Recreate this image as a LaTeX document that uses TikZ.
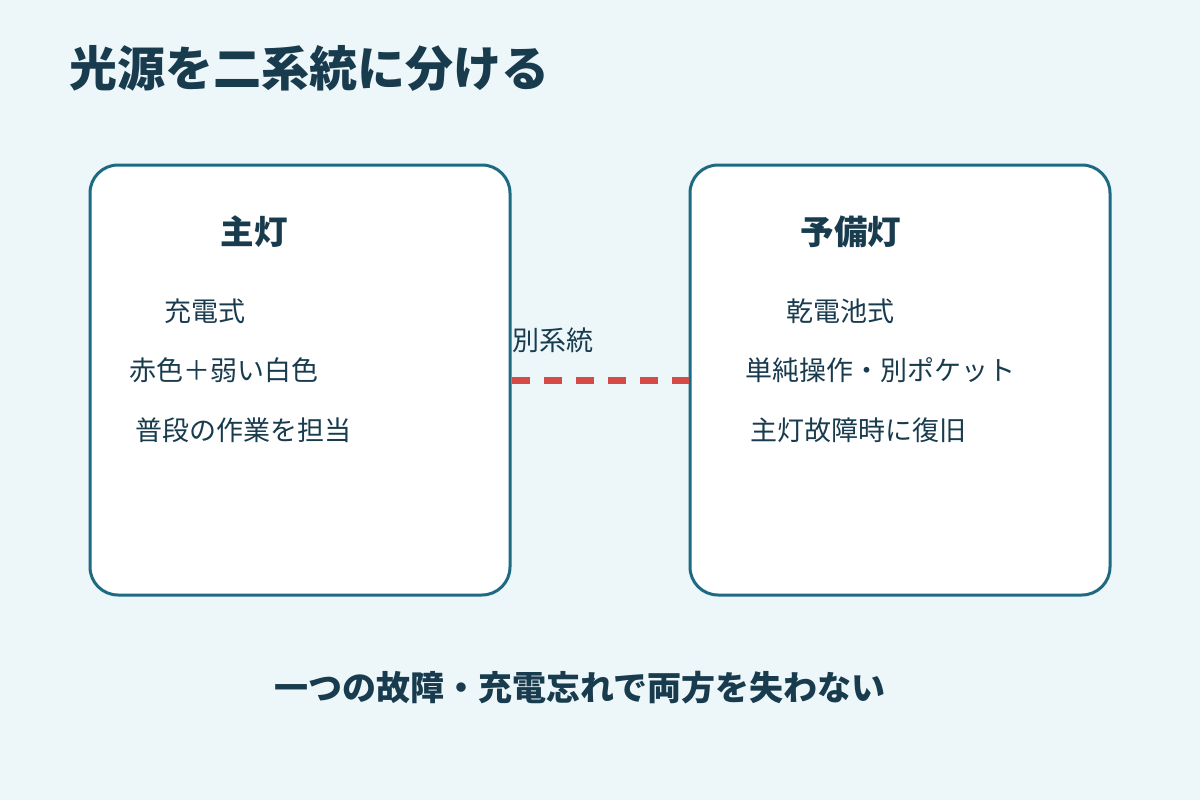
\documentclass[tikz,border=0pt]{standalone}
\usepackage{fontspec}
\setmainfont{Noto Sans CJK JP}
\newfontfamily\cjk{Noto Sans CJK JP}
\definecolor{bgc}{HTML}{EDF7FA}
\definecolor{boxc}{HTML}{1D6A82}
\definecolor{txtc}{HTML}{183B4E}
\definecolor{redc}{HTML}{D64B48}
\begin{document}
\begin{tikzpicture}[x=1pt,y=-1pt,
  panel/.style={draw=boxc,line width=3pt,fill=white,rounded corners=28pt,minimum width=420pt,minimum height=430pt,inner sep=0pt},
  ttl/.style={text=txtc,inner sep=0pt,font=\cjk\bfseries\fontsize{48}{52}\selectfont},
  head/.style={text=txtc,inner sep=0pt,font=\cjk\bfseries\fontsize{33.5}{38}\selectfont},
  item/.style={text=txtc,inner sep=0pt,font=\cjk\fontsize{27}{32}\selectfont},
  foot/.style={text=txtc,inner sep=0pt,font=\cjk\bfseries\fontsize{34}{39}\selectfont},
  link/.style={draw=redc,line width=7pt,dash pattern=on 18pt off 14pt}]
\fill[bgc] (0,0) rectangle (1200,800);
\useasboundingbox (0,0) rectangle (1200,800);
\node[ttl,anchor=west] (title) at (69,68) {光源を二系統に分ける};
\node[panel] (main) at (300,380) {};
\node[panel] (spare) at (900,380) {};
\node[head] (mainh) at (254,232) {主灯};
\node[head] (spareh) at (851,232) {予備灯};
\node[item] (m1) at (205,311) {充電式};
\node[item] (m2) at (224,370) {赤色＋弱い白色};
\node[item] (m3) at (243,430) {普段の作業を担当};
\node[item] (s1) at (840,311) {乾電池式};
\node[item] (s2) at (880,370) {単純操作・別ポケット};
\node[item] (s3) at (858,430) {主灯故障時に復旧};
\draw[link] (main.east) -- (spare.west);
\node[item] (lbl) at (553,340) {別系統};
\node[foot] (note) at (580,688) {一つの故障・充電忘れで両方を失わない};
\end{tikzpicture}
\end{document}
